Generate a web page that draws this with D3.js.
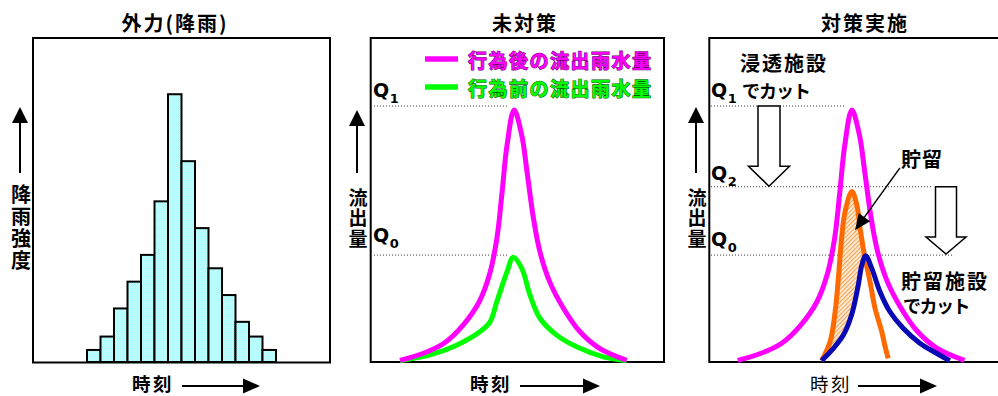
<!DOCTYPE html>
<html><head><meta charset="utf-8">
<script src="https://cdn.jsdelivr.net/npm/d3@7"></script>
<style>
body{margin:0;background:#fff}
svg{display:block}
</style></head>
<body><svg id="c" width="998" height="396"></svg>
<script>
// ---------------- data ----------------
const panelTitles = ["外力(降雨)", "未対策", "対策実施"];
const rainTimes = d3.range(1, 23);
const rainValues = [0,0,0,0,0.9,1.9,4,6,8,12,20,15,10,7,5,3,1.9,0.9,0,0,0,0];

const afterTimes = [10,18,25,31.5,37,40.5,43,44.7,46.5,48.9,51.5,53.3,55.5,57.7,61,65.7,71.3,78,87.3];
const afterFlow  = [0.5,2.7,5.8,11.4,18.6,27,38,51.5,67,77.8,70,58.7,44.3,34,24.8,16.6,9.4,4.2,0.5];

const beforeTimes = [10,20.2,29.3,37.3,40.7,43,46.5,48.6,51.5,54.3,57.7,63.4,70.2,79.3,87.3];
const beforeFlow  = [0.4,2.2,5.2,9.4,12.4,18.6,27.9,32.3,28.9,20.7,13.5,8.3,4.7,1.6,0.4];

const infilTimes = [38.3,41.2,42.9,44,45.1,46.3,48.6,50.3,51.4,53.1,54.8,56.5,58.8,60,61];
const infilFlow  = [0.4,6.3,15.5,25.8,38.2,46.4,52.6,48.5,41.3,32,24.8,16.6,9.4,4.5,1.1];

const storeTimes = [38.3,42.3,45.7,48.5,50.8,52,53.3,55.4,58.2,61.6,66.1,71.8,77.5,82];
const storeFlow  = [0.4,4.2,8.3,14.5,23.8,29.9,32.8,28.9,21.7,15.5,10.4,5.8,2.7,0.4];

const qNames  = ["Q0", "Q1", "Q2"];
const qLevels = [33, 79, 54.1];

const legendLabels = ["行為後の流出雨水量", "行為前の流出雨水量"];
const yLabelRain = "降雨強度";
const yLabelFlow = "流出量";
const xLabel = "時刻";
const annoTexts = ["浸透施設", "でカット", "貯留", "貯留施設", "でカット"];

const colors = {after:"#ff00ff", before:"#00ff00", infil:"#ff6a00", store:"#0a0ab4"};

// ---------------- setup ----------------
const JP = '"Noto Sans CJK JP","Noto Sans",sans-serif';
const svg = d3.select("#c");
const defs = svg.append("defs");
const cp = defs.append("pattern").attr("id","cyan").attr("width",2).attr("height",2)
  .attr("patternUnits","userSpaceOnUse");
cp.append("rect").attr("width",2).attr("height",2).attr("fill","#c8ffff");
cp.append("rect").attr("width",1).attr("height",1).attr("fill","#a6fafa");
cp.append("rect").attr("x",1).attr("y",1).attr("width",1).attr("height",1).attr("fill","#a6fafa");

const hp = defs.append("pattern").attr("id","hatch").attr("width",3).attr("height",3)
  .attr("patternUnits","userSpaceOnUse").attr("patternTransform","rotate(45)");
hp.append("rect").attr("width",3).attr("height",3).attr("fill","#fff0dc");
hp.append("line").attr("x1",0.6).attr("x2",0.6).attr("y1",0).attr("y2",3)
  .attr("stroke","#f4a458").attr("stroke-width",1.2);

function jp(sel){ return sel.style("font-family", JP); }

function upArrow(x, yTop, yBot){
  svg.append("line").attr("x1",x).attr("x2",x).attr("y1",yBot).attr("y2",yTop+12)
    .attr("stroke","#000").attr("stroke-width",2);
  svg.append("path").attr("d",`M${x-8},${yTop+16}L${x+8},${yTop+16}L${x},${yTop}Z`).attr("fill","#000");
}
function rightArrow(x1, x2, y){
  svg.append("line").attr("x1",x1).attr("x2",x2-14).attr("y1",y).attr("y2",y)
    .attr("stroke","#000").attr("stroke-width",2);
  svg.append("path").attr("d",`M${x2-17},${y-7.5}L${x2-17},${y+7.5}L${x2},${y}Z`).attr("fill","#000");
}
function vertText(str, x, yTop, size, ls){
  jp(svg.append("text")).attr("x",x).attr("y",yTop)
    .style("writing-mode","vertical-rl").attr("font-size",size).attr("font-weight",700)
    .attr("letter-spacing",ls+"px").text(str);
}
function title(t, x){
  jp(svg.append("text")).attr("x",x).attr("y",22).attr("text-anchor","middle")
    .attr("dominant-baseline","central").attr("font-size",20).attr("font-weight",700)
    .attr("letter-spacing","2px").text(t);
}
function timeLabel(x, weight){
  jp(svg.append("text")).attr("x",x).attr("y",382.5).attr("dominant-baseline","central")
    .attr("font-size",18.5).attr("font-weight",weight).attr("letter-spacing","2.5px").text(xLabel);
}
function box(x0,x1,y0,y1){
  svg.append("rect").attr("x",x0).attr("y",y0).attr("width",x1-x0).attr("height",y1-y0)
    .attr("fill","none").attr("stroke","#000").attr("stroke-width",2);
}
function qLabel(name, x, yLine, dyQ){
  const t = svg.append("text").attr("x",x).attr("y",yLine+dyQ)
    .style("font-family","'DejaVu Sans',Verdana,sans-serif").attr("font-weight",700);
  t.append("tspan").attr("font-size",19).text(name[0]);
  t.append("tspan").attr("font-size",13).attr("dy",6).attr("dx",0.5).text(name.slice(1));
}
function dotted(x1,x2,y){
  svg.append("line").attr("x1",x1).attr("x2",x2).attr("y1",y).attr("y2",y)
    .attr("stroke","#333").attr("stroke-width",1).attr("stroke-dasharray","1,2");
}
const q = n => qLevels[qNames.indexOf(n)];

// ---------------- panel 1 ----------------
const x1 = d3.scaleBand().domain(rainTimes).range([33,330]).padding(0);
const y1 = d3.scaleLinear().domain([0,24.2]).range([362,38]);
box(33,330,38,362.5);
svg.append("g").selectAll("rect").data(rainTimes.map((t,i)=>({t,v:rainValues[i]})).filter(d=>d.v>0))
  .join("rect").attr("x",d=>x1(d.t)).attr("y",d=>y1(d.v)).attr("width",x1.bandwidth())
  .attr("height",d=>y1(0)-y1(d.v)).attr("fill","url(#cyan)").attr("stroke","#000").attr("stroke-width",2);
title(panelTitles[0],175);
upArrow(20,107,173);
vertText(yLabelRain,21,184,20,2);
timeLabel(132,700);
rightArrow(182,260,386);

// ---------------- panel 2 ----------------
const x2 = d3.scaleLinear().domain([0,100]).range([370.7,664]);
const yF = d3.scaleLinear().domain([0,100]).range([362,38]);
box(370.7,664,38,362);
title(panelTitles[1],525);
upArrow(357,110,173);
vertText(yLabelFlow,358,188,19,1.5);
timeLabel(470,700);
rightArrow(520,600,386);
dotted(x2(1.1),x2(46.5),yF(q("Q1")));
dotted(x2(1.1),x2(46.5),yF(q("Q0")));
qLabel("Q1",373,yF(q("Q1")),-9);
qLabel("Q0",373,yF(q("Q0")),-13);

const line2 = d3.line().x(d=>x2(d[0])).y(d=>yF(d[1])).curve(d3.curveCatmullRom.alpha(0.5));
svg.append("path").attr("d",line2(d3.zip(beforeTimes,beforeFlow))).attr("fill","none")
  .attr("stroke",colors.before).attr("stroke-width",5);
svg.append("path").attr("d",line2(d3.zip(afterTimes,afterFlow))).attr("fill","none")
  .attr("stroke",colors.after).attr("stroke-width",5);

// legend
[colors.after, colors.before].forEach((c,i)=>{
  const yy = 59 + i*28;
  svg.append("line").attr("x1",425).attr("x2",458).attr("y1",yy).attr("y2",yy)
    .attr("stroke",c).attr("stroke-width",5.5);
  jp(svg.append("text")).attr("x",468).attr("y",yy).attr("dominant-baseline","central")
    .attr("font-size",19).attr("font-weight",700).attr("letter-spacing","1.5px")
    .attr("fill",c).attr("stroke",i===0?"#6a006a":"#005a00").attr("stroke-width",1.1)
    .attr("paint-order","stroke").text(legendLabels[i]);
});

// ---------------- panel 3 ----------------
const x3 = d3.scaleLinear().domain([0,100]).range([709.3,1002.6]);
box(709.3,1010,38,362);
title(panelTitles[2],865);
upArrow(696,107,173);
vertText(yLabelFlow,697,188,19,1.5);
timeLabel(810,400);
rightArrow(858,937,386);
dotted(x3(0.6),x3(46.3),yF(q("Q1")));
dotted(x3(0.6),x3(76.3),yF(q("Q2")));
dotted(x3(0.6),x3(83.1),yF(q("Q0")));
qLabel("Q1",711,yF(q("Q1")),-9);
qLabel("Q2",711,yF(q("Q2")),-7);
qLabel("Q0",711,yF(q("Q0")),-9);

// hollow arrows
function hollowDown(xc, halfShaft, halfHead, yTop, yTip, headH){
  const p = `M${xc-halfShaft},${yTop}L${xc+halfShaft},${yTop}L${xc+halfShaft},${yTip-headH}`+
    `L${xc+halfHead},${yTip-headH}L${xc},${yTip}L${xc-halfHead},${yTip-headH}`+
    `L${xc-halfShaft},${yTip-headH}Z`;
  svg.append("path").attr("d",p).attr("fill","#fff").attr("stroke","#000").attr("stroke-width",1.5);
}
hollowDown(769,11,20.5,yF(q("Q1")),yF(q("Q2"))-0.5,20);
hollowDown(946,10.5,20,yF(q("Q2")),yF(q("Q0"))-1,17);

const line3 = d3.line().x(d=>x3(d[0])).y(d=>yF(d[1])).curve(d3.curveCatmullRom.alpha(0.5));
const area3 = d3.area().x(d=>x3(d[0])).y0(yF(0)).y1(d=>yF(d[1])).curve(d3.curveCatmullRom.alpha(0.5));
const mask = defs.append("mask").attr("id","m3");
mask.append("rect").attr("x",0).attr("y",0).attr("width",998).attr("height",396).attr("fill","#fff");
mask.append("path").attr("d",area3(d3.zip(storeTimes,storeFlow))).attr("fill","#000");
svg.append("path").attr("d",area3(d3.zip(infilTimes,infilFlow))).attr("fill","url(#hatch)")
  .attr("mask","url(#m3)");

svg.append("path").attr("d",line3(d3.zip(afterTimes.map(t=>t-0.3),afterFlow))).attr("fill","none")
  .attr("stroke",colors.after).attr("stroke-width",5);
svg.append("path").attr("d",line3(d3.zip(infilTimes,infilFlow))).attr("fill","none")
  .attr("stroke",colors.infil).attr("stroke-width",5);
svg.append("path").attr("d",line3(d3.zip(storeTimes,storeFlow))).attr("fill","none")
  .attr("stroke",colors.store).attr("stroke-width",5);

// annotations
function anno(t, x, y, size, ls){
  jp(svg.append("text")).attr("x",x).attr("y",y).attr("dominant-baseline","central")
    .attr("font-size",size).attr("font-weight",700).attr("letter-spacing",ls+"px").text(t);
}
anno(annoTexts[0],740,62,20,2);
anno(annoTexts[1],742,90,18,-1);
anno(annoTexts[2],901,158,20,1);
anno(annoTexts[3],901,280,20,2);
anno(annoTexts[4],903,305,18,-1.5);

// storage pointer arrow
{
  const sx = x3(65), sy = yF(59.9), ex = x3(49.7), ey = yF(40.7);
  const ang = Math.atan2(ey-sy, ex-sx), L = 16, W = 7;
  const bx = ex - L*Math.cos(ang), by = ey - L*Math.sin(ang);
  svg.append("line").attr("x1",sx).attr("y1",sy).attr("x2",bx).attr("y2",by)
    .attr("stroke","#000").attr("stroke-width",1.5);
  const px = -Math.sin(ang)*W, py = Math.cos(ang)*W;
  svg.append("path").attr("d",`M${ex},${ey}L${bx+px},${by+py}L${bx-px},${by-py}Z`).attr("fill","#000");
}
</script></body></html>
